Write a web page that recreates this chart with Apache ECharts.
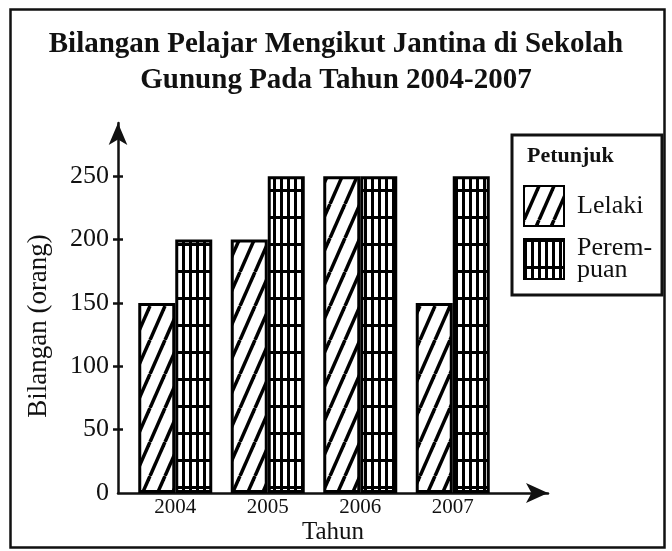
<!DOCTYPE html>
<html>
<head>
<meta charset="utf-8">
<script src="https://cdn.jsdelivr.net/npm/echarts@6/dist/echarts.min.js"></script>
<style>
  html, body { margin: 0; padding: 0; background: #fff; }
  #chart { width: 672px; height: 551px; }
</style>
</head>
<body>
<div id="chart"></div>
<script>
// data
const years = ['2004', '2005', '2006', '2007'];
const lelaki = [150, 200, 250, 150];
const perempuan = [200, 250, 250, 250];
const yTicks = [0, 50, 100, 150, 200, 250];

const serif = "'Liberation Serif', 'DejaVu Serif', serif";

// corak garis condong (Lelaki)
function hatchPattern() {
    const w = 15, h = 34;
    const c = document.createElement('canvas');
    c.width = w;
    c.height = h;
    const ctx = c.getContext('2d');
    ctx.fillStyle = '#fff';
    ctx.fillRect(0, 0, w, h);
    ctx.strokeStyle = '#000';
    ctx.lineWidth = 3.5;
    [-w, 0, w].forEach(off => {
        ctx.beginPath();
        ctx.moveTo(off, h);
        ctx.lineTo(off + w, 0);
        ctx.stroke();
    });
    return c;
}

// corak petak (Perempuan)
function gridPattern() {
    const c = document.createElement('canvas');
    c.width = 7;
    c.height = 27;
    const ctx = c.getContext('2d');
    ctx.fillStyle = '#fff';
    ctx.fillRect(0, 0, 7, 27);
    ctx.fillStyle = '#000';
    ctx.fillRect(0, 0, 3, 27);
    ctx.fillRect(0, 0, 7, 3);
    return c;
}

const chart = echarts.init(document.getElementById('chart'));

const option = {
    animation: false,
    backgroundColor: '#fff',
    title: [{
        text: 'Bilangan Pelajar Mengikut Jantina di Sekolah\nGunung Pada Tahun 2004-2007',
        left: 'center',
        top: 22,
        textStyle: {
            fontFamily: serif,
            fontWeight: 'bold',
            fontSize: 29,
            lineHeight: 36,
            color: '#111'
        }
    }],
    graphic: [
        {
            type: 'rect',
            shape: {x: 10.5, y: 9.5, width: 654, height: 538},
            style: {fill: 'none', stroke: '#111', lineWidth: 2.5},
            silent: true
        },
        {
            type: 'rect',
            shape: {x: 512, y: 135, width: 150, height: 160},
            style: {fill: 'none', stroke: '#111', lineWidth: 3},
            silent: true
        },
        {
            type: 'text',
            left: 527,
            top: 145,
            style: {
                text: 'Petunjuk',
                font: 'bold 22px ' + serif,
                fill: '#111'
            },
            silent: true
        }
    ],
    legend: {
        data: ['Lelaki', 'Perempuan'],
        orient: 'vertical',
        left: 523,
        top: 185,
        padding: 0,
        itemWidth: 40,
        itemHeight: 40,
        itemGap: 8,
        itemTextGap: 5,
        icon: 'rect',
        selectedMode: false,
        formatter: name => name === 'Perempuan' ? 'Perem-\npuan' : name,
        textStyle: {
            fontFamily: serif,
            fontSize: 26,
            lineHeight: 22,
            color: '#111',
            padding: [0, 0, 0, 8]
        }
    },
    grid: [
        {left: 129, right: 173, top: 123, bottom: 58},
        {left: 118, right: 124, top: 123, bottom: 58}
    ],
    xAxis: [
        {
            type: 'category',
            gridIndex: 0,
            data: years,
            axisLine: {show: false},
            axisTick: {show: false},
            axisLabel: {
                margin: 4,
                fontFamily: serif,
                fontSize: 21,
                color: '#111'
            }
        },
        {
            type: 'value',
            gridIndex: 1,
            min: 0,
            max: 1,
            name: 'Tahun',
            nameLocation: 'middle',
            nameGap: 27,
            nameTextStyle: {fontFamily: serif, fontSize: 25, color: '#111'},
            axisLine: {
                show: true,
                symbol: ['none', 'arrow'],
                symbolSize: [15, 22],
                lineStyle: {color: '#111', width: 2.5}
            },
            axisTick: {show: false},
            axisLabel: {show: false},
            splitLine: {show: false}
        }
    ],
    yAxis: [
        {
            type: 'value',
            gridIndex: 0,
            min: 0,
            max: 292,
            offset: 11,
            name: 'Bilangan (orang)',
            nameLocation: 'middle',
            nameRotate: 90,
            nameGap: 66,
            nameTextStyle: {
                fontFamily: serif,
                fontSize: 27,
                color: '#111',
                padding: [0, 36, 0, 0]
            },
            axisLine: {
                show: true,
                symbol: ['none', 'arrow'],
                symbolSize: [14, 22],
                lineStyle: {color: '#111', width: 2.5}
            },
            axisTick: {
                show: true,
                length: 5,
                customValues: yTicks.slice(1),
                lineStyle: {color: '#111', width: 2.5}
            },
            axisLabel: {
                margin: 9,
                customValues: yTicks,
                fontFamily: serif,
                fontSize: 26,
                color: '#111'
            },
            splitLine: {show: false}
        },
        {
            type: 'value',
            gridIndex: 1,
            min: 0,
            max: 292,
            axisLine: {show: false},
            axisTick: {
                show: true,
                inside: true,
                length: 5,
                customValues: yTicks.slice(1),
                lineStyle: {color: '#111', width: 2.5}
            },
            axisLabel: {show: false},
            splitLine: {show: false}
        }
    ],
    series: [
        {
            name: 'Lelaki',
            type: 'bar',
            xAxisIndex: 0,
            yAxisIndex: 0,
            barWidth: 37,
            barGap: '0%',
            data: lelaki,
            itemStyle: {
                color: {image: hatchPattern(), repeat: 'repeat'},
                borderColor: '#000',
                borderWidth: 3
            }
        },
        {
            name: 'Perempuan',
            type: 'bar',
            xAxisIndex: 0,
            yAxisIndex: 0,
            barWidth: 37,
            barGap: '0%',
            data: perempuan,
            itemStyle: {
                color: {image: gridPattern(), repeat: 'repeat'},
                borderColor: '#000',
                borderWidth: 3
            }
        }
    ]
};

chart.setOption(option);
</script>
</body>
</html>
